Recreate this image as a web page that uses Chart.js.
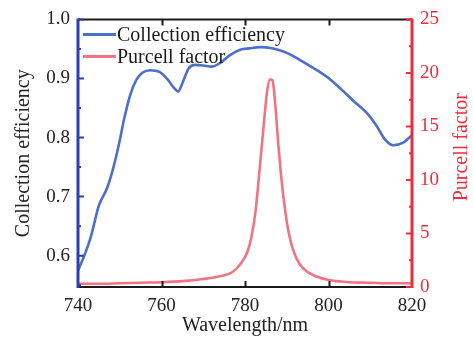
<!DOCTYPE html>
<html>
<head>
<meta charset="utf-8">
<script src="https://cdn.jsdelivr.net/npm/chart.js@4/dist/chart.umd.min.js"></script>
<style>
  html, body { margin: 0; padding: 0; background: #ffffff; }
  #wrap { width: 473px; height: 339px; }
</style>
</head>
<body>
<div id="wrap"><canvas id="c" width="473" height="339"></canvas></div>
<script>
// Collection efficiency vs wavelength (left axis)
const effWavelength = [740, 741.5, 743, 745, 747, 748.5, 750, 751, 752.5, 754, 755.5, 757.3, 759.5, 761.5, 763, 764,
  765, 766.5, 768, 770, 772, 774, 776.5, 779, 781, 783.5, 786.5, 789, 791, 793, 797, 800.5, 803, 806, 809,
  811.5, 813.5, 815.5, 818, 820];
const effValues = [0.575, 0.600, 0.630, 0.685, 0.715, 0.750, 0.795, 0.830, 0.872, 0.898, 0.910, 0.914, 0.911, 0.898, 0.884, 0.878,
  0.892, 0.917, 0.923, 0.922, 0.920, 0.926, 0.940, 0.949, 0.951, 0.953, 0.951, 0.946, 0.940, 0.932, 0.915, 0.898, 0.882, 0.862, 0.843,
  0.820, 0.797, 0.787, 0.792, 0.804];

// Purcell factor vs wavelength (right axis)
const purcellWavelength = [740, 745, 750, 755, 760, 765, 770, 774, 777, 779, 780.5, 781.5, 782.5, 783.5, 784.5, 785.3,
  786, 786.6, 787.3, 788, 788.6, 789.4, 790.4, 791.5, 793, 795, 797, 800, 805, 810, 815, 820];
const purcellValues = [0.3, 0.3, 0.35, 0.4, 0.45, 0.55, 0.75, 1.0, 1.4, 2.2, 3.2, 4.6, 7.0, 11.0, 15.2, 18.3,
  19.4, 19.3, 16.8, 13.2, 10.6, 7.8, 5.2, 3.5, 2.2, 1.4, 1.0, 0.65, 0.45, 0.4, 0.35, 0.35];

const xTicks = [740, 760, 780, 800, 820];
const effTicks = [0.6, 0.7, 0.8, 0.9, 1.0];
const purcellTicks = [0, 5, 10, 15, 20, 25];

const seriesNames = ['Collection efficiency', 'Purcell factor'];
const axisTitles = { x: 'Wavelength/nm', y: 'Collection efficiency', y2: 'Purcell factor' };

const BLUE_LINE = '#4d6fca';
const BLUE_AXIS = '#2c3db5';
const RED_LINE = '#f27382';
const RED_AXIS = '#ef2b3c';
const FONT = '"Liberation Serif", "Times New Roman", serif';

const toPoints = (xs, ys) => xs.map((x, i) => ({ x: x, y: ys[i] }));

// Inward tick marks, framed axes, titles and an in-plot legend
const framePlugin = {
  id: 'frame',
  afterDatasetsDraw(chart) {
    const { ctx, chartArea: a, scales } = chart;
    const xs = scales.x, ys = scales.y, y2 = scales.y2;
    ctx.save();
    ctx.lineCap = 'butt';

    // top and bottom frame (black)
    ctx.strokeStyle = '#1a1a1a';
    ctx.lineWidth = 2;
    ctx.beginPath();
    ctx.moveTo(a.left, a.top); ctx.lineTo(a.right, a.top);
    ctx.moveTo(a.left, a.bottom); ctx.lineTo(a.right, a.bottom);
    ctx.stroke();
    ctx.beginPath();
    xTicks.slice(1, -1).forEach(v => {
      const px = Math.round(xs.getPixelForValue(v)) + 0.5;
      ctx.moveTo(px, a.bottom); ctx.lineTo(px, a.bottom - 6);
      ctx.moveTo(px, a.top); ctx.lineTo(px, a.top + 6);
    });
    ctx.stroke();

    // left axis (blue)
    ctx.strokeStyle = BLUE_AXIS;
    ctx.lineWidth = 3;
    ctx.beginPath();
    ctx.moveTo(a.left, a.top - 1); ctx.lineTo(a.left, a.bottom + 1);
    ctx.stroke();
    ctx.lineWidth = 2;
    ctx.beginPath();
    effTicks.forEach(v => {
      const py = ys.getPixelForValue(v);
      ctx.moveTo(a.left, py); ctx.lineTo(a.left + 6, py);
      const m = ys.getPixelForValue(v - 0.05);
      if (m <= a.bottom) { ctx.moveTo(a.left, m); ctx.lineTo(a.left + 3, m); }
    });
    ctx.stroke();

    // right axis (red)
    ctx.strokeStyle = RED_AXIS;
    ctx.lineWidth = 3;
    ctx.beginPath();
    ctx.moveTo(a.right, a.top - 1); ctx.lineTo(a.right, a.bottom + 1);
    ctx.stroke();
    ctx.lineWidth = 2;
    ctx.beginPath();
    purcellTicks.forEach(v => {
      const py = y2.getPixelForValue(v);
      ctx.moveTo(a.right, py); ctx.lineTo(a.right - 6, py);
      if (v > 0) {
        const m = y2.getPixelForValue(v - 2.5);
        ctx.moveTo(a.right, m); ctx.lineTo(a.right - 3, m);
      }
    });
    ctx.stroke();
    ctx.restore();
  },
  afterDraw(chart) {
    const { ctx, chartArea: a } = chart;
    ctx.save();
    ctx.font = '20px ' + FONT;
    ctx.textAlign = 'center';
    ctx.textBaseline = 'middle';

    // x title
    ctx.fillStyle = '#222222';
    ctx.fillText(axisTitles.x, (a.left + a.right) / 2, 326);

    // left title
    ctx.save();
    ctx.translate(24, (a.top + a.bottom) / 2);
    ctx.rotate(-Math.PI / 2);
    ctx.fillStyle = '#222222';
    ctx.fillText(axisTitles.y, 0, 0);
    ctx.restore();

    // right title
    ctx.save();
    ctx.translate(462, (a.top + a.bottom) / 2 - 6);
    ctx.rotate(-Math.PI / 2);
    ctx.fillStyle = RED_AXIS;
    ctx.fillText(axisTitles.y2, 0, 0);
    ctx.restore();

    // legend
    ctx.textAlign = 'left';
    chart.data.datasets.forEach((ds, i) => {
      const yy = a.top + 15 + i * 22;
      ctx.strokeStyle = ds.borderColor;
      ctx.lineWidth = 3;
      ctx.beginPath();
      ctx.moveTo(a.left + 5, yy); ctx.lineTo(a.left + 38, yy);
      ctx.stroke();
      ctx.fillStyle = '#1a1a1a';
      ctx.fillText(ds.label, a.left + 39, yy + 1);
    });
    ctx.restore();
  }
};

new Chart(document.getElementById('c'), {
  type: 'line',
  data: {
    datasets: [
      {
        label: seriesNames[0],
        data: toPoints(effWavelength, effValues),
        yAxisID: 'y',
        borderColor: BLUE_LINE,
        borderWidth: 2.6,
        pointRadius: 0,
        cubicInterpolationMode: 'monotone',
        fill: false
      },
      {
        label: seriesNames[1],
        data: toPoints(purcellWavelength, purcellValues),
        yAxisID: 'y2',
        borderColor: RED_LINE,
        borderWidth: 2.6,
        pointRadius: 0,
        cubicInterpolationMode: 'monotone',
        fill: false
      }
    ]
  },
  options: {
    responsive: false,
    animation: false,
    devicePixelRatio: 1,
    layout: { padding: { top: 16, right: 0, bottom: 0, left: 0 } },
    plugins: {
      legend: { display: false },
      tooltip: { enabled: false }
    },
    scales: {
      x: {
        type: 'linear',
        position: 'bottom',
        min: 740,
        max: 820,
        afterBuildTicks: s => { s.ticks = xTicks.map(v => ({ value: v })); },
        ticks: { color: '#222222', font: { family: FONT, size: 19 }, padding: 8, maxRotation: 0 },
        grid: { display: false, drawTicks: false },
        border: { display: false },
        afterFit: s => { s.height = 52; }
      },
      y: {
        type: 'linear',
        position: 'left',
        min: 0.547,
        max: 1.0,
        afterBuildTicks: s => { s.ticks = effTicks.map(v => ({ value: v })); },
        ticks: { color: '#222222', font: { family: FONT, size: 19 }, padding: 8, callback: v => v.toFixed(1) },
        grid: { display: false, drawTicks: false },
        border: { display: false },
        afterFit: s => { s.width = 78; }
      },
      y2: {
        type: 'linear',
        position: 'right',
        min: 0,
        max: 25,
        afterBuildTicks: s => { s.ticks = purcellTicks.map(v => ({ value: v })); },
        ticks: { color: RED_AXIS, font: { family: FONT, size: 19 }, padding: 8 },
        grid: { display: false, drawTicks: false },
        border: { display: false },
        afterFit: s => { s.width = 61; }
      }
    }
  },
  plugins: [framePlugin]
});
</script>
</body>
</html>
